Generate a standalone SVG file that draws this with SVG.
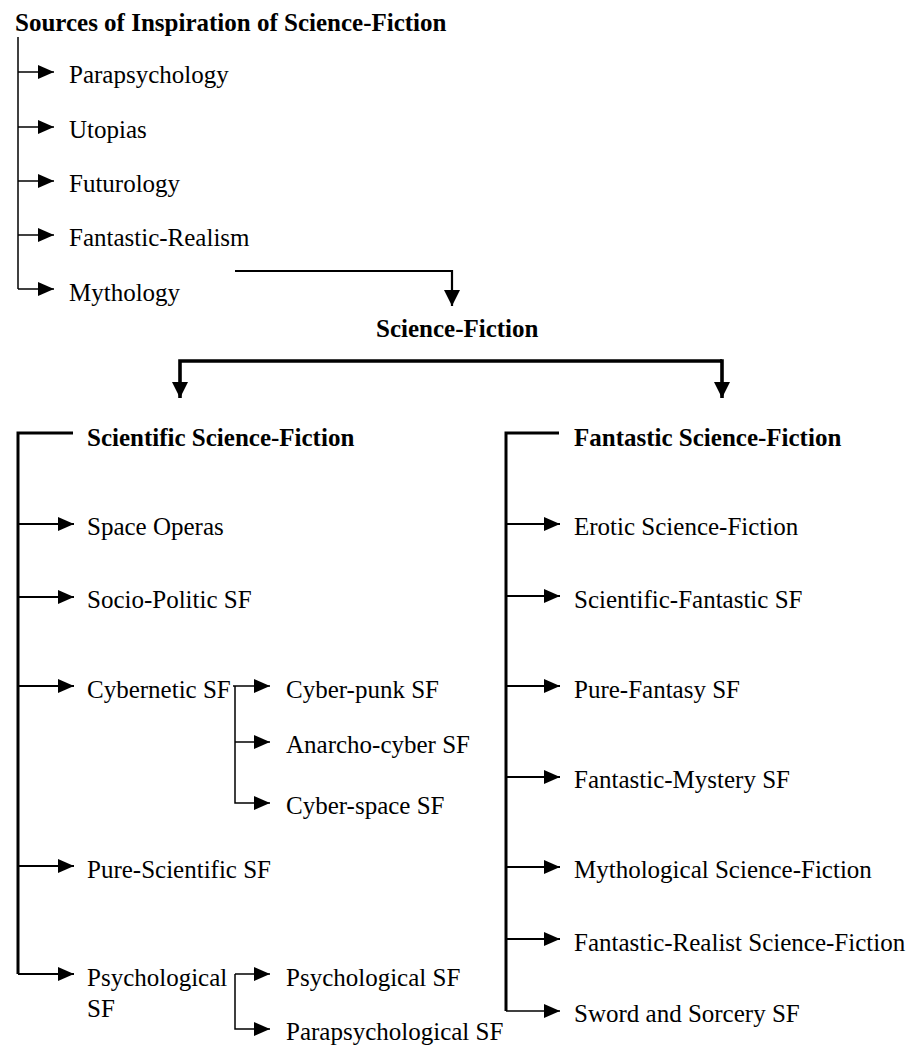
<svg xmlns="http://www.w3.org/2000/svg" width="909" height="1047" viewBox="0 0 909 1047">
<style>
text{font-family:"Liberation Serif","Times New Roman",serif;font-size:25px;fill:#000}
.b{font-weight:bold}
.thin{stroke:#000;stroke-width:1.5;fill:none}
.mid{stroke:#000;stroke-width:2.2;fill:none}
.thick{stroke:#000;stroke-width:3;fill:none}
.heavy{stroke:#000;stroke-width:3.6;fill:none}
</style>
<defs>
<marker id="ah" markerUnits="userSpaceOnUse" markerWidth="16" markerHeight="14" refX="16" refY="7" orient="auto" viewBox="0 0 16 14"><path d="M0,0 L16,7 L0,14 Z" fill="#000"/></marker>
<marker id="ahd" markerUnits="userSpaceOnUse" markerWidth="16" markerHeight="16" refX="16" refY="8" orient="auto" viewBox="0 0 16 16"><path d="M0,0 L16,8 L0,16 Z" fill="#000"/></marker>
</defs>
<rect width="909" height="1047" fill="#fff"/>
<g id="connectors">
  <path class="thin" d="M18,37 V289"/>
  <path class="thin" d="M18,72 H54" marker-end="url(#ah)"/>
  <path class="thin" d="M18,127 H54" marker-end="url(#ah)"/>
  <path class="thin" d="M18,181 H54" marker-end="url(#ah)"/>
  <path class="thin" d="M18,235 H54" marker-end="url(#ah)"/>
  <path class="thin" d="M18,289 H54" marker-end="url(#ah)"/>
  <path class="mid" d="M235,271 H452 V306" marker-end="url(#ahd)"/>
  <path class="heavy" d="M722,361 H180 V398" marker-end="url(#ahd)"/>
  <path class="heavy" d="M720,361 H722 V398" marker-end="url(#ahd)"/>
  <path class="thick" d="M73,433 H18 V974"/>
  <path class="mid" d="M18,524 H74" marker-end="url(#ah)"/>
  <path class="mid" d="M18,597 H74" marker-end="url(#ah)"/>
  <path class="mid" d="M18,686 H74" marker-end="url(#ah)"/>
  <path class="mid" d="M18,866 H74" marker-end="url(#ah)"/>
  <path class="mid" d="M18,974 H74" marker-end="url(#ah)"/>
  <path class="thin" d="M233,686 H270" marker-end="url(#ah)"/>
  <path class="thin" d="M235,686 V803 H270" marker-end="url(#ah)"/>
  <path class="thin" d="M235,742 H270" marker-end="url(#ah)"/>
  <path class="thin" d="M235,974 H270" marker-end="url(#ah)"/>
  <path class="thin" d="M235,974 V1029 H270" marker-end="url(#ah)"/>
  <path class="thick" d="M559,433 H506 V1011"/>
  <path class="mid" d="M506,524 H560" marker-end="url(#ah)"/>
  <path class="mid" d="M506,596 H560" marker-end="url(#ah)"/>
  <path class="mid" d="M506,686 H560" marker-end="url(#ah)"/>
  <path class="mid" d="M506,777 H560" marker-end="url(#ah)"/>
  <path class="mid" d="M506,867 H560" marker-end="url(#ah)"/>
  <path class="mid" d="M506,939 H560" marker-end="url(#ah)"/>
  <path class="thin" d="M506,1011 H560" marker-end="url(#ah)"/>
</g>
<g id="n-sources"><text class="b" x="15" y="31">Sources of Inspiration of Science-Fiction</text></g>
<g id="n-parapsychology"><text x="69" y="83">Parapsychology</text></g>
<g id="n-utopias"><text x="69" y="138">Utopias</text></g>
<g id="n-futurology"><text x="69" y="192">Futurology</text></g>
<g id="n-fantastic-realism"><text x="69" y="246">Fantastic-Realism</text></g>
<g id="n-mythology"><text x="69" y="301">Mythology</text></g>
<g id="n-sf"><text class="b" x="376" y="337">Science-Fiction</text></g>
<g id="n-scientific-sf"><text class="b" x="87" y="446">Scientific Science-Fiction</text></g>
<g id="n-space-operas"><text x="87" y="535">Space Operas</text></g>
<g id="n-socio-politic"><text x="87" y="608">Socio-Politic SF</text></g>
<g id="n-cybernetic"><text x="87" y="698">Cybernetic SF</text></g>
<g id="n-cyber-punk"><text x="286" y="698">Cyber-punk SF</text></g>
<g id="n-anarcho-cyber"><text x="286" y="753">Anarcho-cyber SF</text></g>
<g id="n-cyber-space"><text x="286" y="814">Cyber-space SF</text></g>
<g id="n-pure-scientific"><text x="87" y="878">Pure-Scientific SF</text></g>
<g id="n-psychological"><text x="87" y="986">Psychological</text><text x="87" y="1017">SF</text></g>
<g id="n-psychological-sf"><text x="286" y="986">Psychological SF</text></g>
<g id="n-parapsychological-sf"><text x="286" y="1040">Parapsychological SF</text></g>
<g id="n-fantastic-sf"><text class="b" x="574" y="446">Fantastic Science-Fiction</text></g>
<g id="n-erotic"><text x="574" y="535">Erotic Science-Fiction</text></g>
<g id="n-scientific-fantastic"><text x="574" y="608">Scientific-Fantastic SF</text></g>
<g id="n-pure-fantasy"><text x="574" y="698">Pure-Fantasy SF</text></g>
<g id="n-fantastic-mystery"><text x="574" y="788">Fantastic-Mystery SF</text></g>
<g id="n-mythological"><text x="574" y="878">Mythological Science-Fiction</text></g>
<g id="n-fantastic-realist"><text x="574" y="951">Fantastic-Realist Science-Fiction</text></g>
<g id="n-sword"><text x="574" y="1022">Sword and Sorcery SF</text></g>
</svg>
